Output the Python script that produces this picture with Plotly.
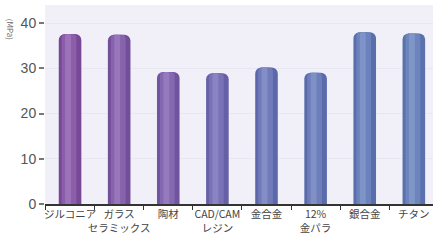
import plotly.graph_objects as go

categories = ["ジルコニア", "ガラス<br>セラミックス", "陶材", "CAD/CAM<br>レジン", "金合金", "12%<br>金パラ", "銀合金", "チタン"]
values = [37.6, 37.4, 29.2, 28.9, 30.2, 29.0, 38.0, 37.7]
colors = ["#774896", "#734f9a", "#70549f", "#6660a6", "#5d68aa", "#5a6bab", "#586fac", "#5971ac"]
mid_colors = ["#8c5eaa", "#8763ad", "#8468b2", "#7a72b6", "#717bba", "#6e7ebb", "#6c82bc", "#6d84bc"]
hi_colors = ["#9c72b8", "#9776ba", "#947bbe", "#8b84c2", "#838dc6", "#8090c7", "#7e94c8", "#7f96c8"]
yticks = [0, 10, 20, 30, 40]

x = list(range(len(categories)))
fig = go.Figure()
fig.add_trace(go.Bar(x=x, y=values, width=0.46, marker=dict(color=colors, line=dict(width=0), cornerradius=6),
                     hoverinfo="skip"))
fig.add_trace(go.Bar(x=x, y=values, width=0.3, offset=-0.17, marker=dict(color=mid_colors, line=dict(width=0), cornerradius=4),
                     hoverinfo="skip"))
fig.add_trace(go.Bar(x=x, y=values, width=0.12, offset=-0.1, marker=dict(color=hi_colors, line=dict(width=0), cornerradius=2),
                     hoverinfo="skip"))

fig.update_layout(
    width=433, height=243,
    margin=dict(l=45, r=0, t=5, b=39),
    paper_bgcolor="white",
    plot_bgcolor="#f1f0f8",
    barmode="overlay",
    showlegend=False,
    font=dict(family="Noto Sans CJK JP, sans-serif", color="#444"),
)
fig.update_xaxes(
    range=[-0.51, 7.39],
    tickmode="array", tickvals=x, ticktext=categories,
    tickangle=0, automargin=False,
    ticks="", showgrid=False, zeroline=False,
    showline=True, linecolor="#333", linewidth=1.5,
    tickfont=dict(size=10.5, color="#444"),
    minor=dict(tick0=0.5, dtick=1, ticks="outside", ticklen=4, tickcolor="#333", showgrid=False),
)
fig.update_yaxes(
    range=[0, 44], automargin=False,
    tickmode="array", tickvals=yticks, ticktext=[str(v) for v in yticks],
    ticks="outside", ticklen=5, tickcolor="#777", tickwidth=1.5,
    showgrid=True, gridcolor="#e7e6f2", zeroline=False, showline=False,
    tickfont=dict(size=14, color="#555", family="Liberation Sans, Arial, sans-serif"),
)
fig.add_annotation(text="(MPa)", xref="paper", yref="paper", x=-0.09, y=0.88,
                   xanchor="center", yanchor="middle",
                   textangle=90, showarrow=False, font=dict(size=8, color="#666"))
fig.write_html("out.html", config={"displayModeBar": False},
               post_script="document.body.style.margin='0px';document.body.style.padding='0px';")
